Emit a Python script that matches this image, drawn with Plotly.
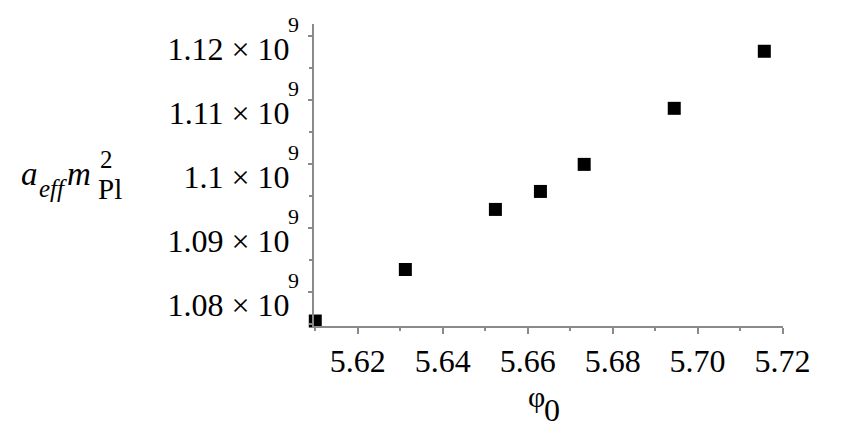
import plotly.graph_objects as go

# data
phi0 = [5.61, 5.6312, 5.6524, 5.663, 5.6733, 5.6945, 5.7157]
a_eff_mpl2 = [1.07546e9, 1.08351e9, 1.09290e9, 1.09571e9, 1.09994e9, 1.10870e9, 1.11762e9]

x_ticks = [5.62, 5.64, 5.66, 5.68, 5.70, 5.72]
x_ticklabels = ["5.62", "5.64", "5.66", "5.68", "5.70", "5.72"]
y_ticks = [1.08e9, 1.09e9, 1.10e9, 1.11e9, 1.12e9]
y_ticklabels = ["1.08 × 10", "1.09 × 10", "1.1 × 10", "1.11 × 10", "1.12 × 10"]
y_tick_exponent = "9"

FONT = "Liberation Serif"
PAGE = 8  # default body margin of the html page
W, H = 844 - PAGE, 436 - PAGE
L, R, T, B = 314 - PAGE, 61, 24 - PAGE, 110
AX = "#8a8a8a"

fig = go.Figure()
fig.add_trace(go.Scatter(
    x=phi0, y=a_eff_mpl2, mode="markers",
    marker=dict(symbol="square", size=13, color="black", line=dict(width=0)),
    cliponaxis=False, showlegend=False,
))

fig.update_xaxes(
    range=[5.6097, 5.7201], tickvals=x_ticks, ticktext=x_ticklabels,
    showline=True, linecolor=AX, linewidth=2, showgrid=False, zeroline=False,
    ticks="outside", ticklen=6, tickwidth=1.5, tickcolor=AX,
    minor=dict(dtick=0.01, tick0=5.61, ticks="outside", ticklen=3, tickcolor=AX, tickwidth=1.5, showgrid=False),
    tickfont=dict(family=FONT, size=32, color="black"),
)
fig.update_yaxes(
    range=[1.07468e9, 1.12188e9], tickvals=y_ticks, ticktext=y_ticklabels,
    showline=True, linecolor=AX, linewidth=2, showgrid=False, zeroline=False,
    ticks="outside", ticklen=4, tickwidth=1.5, tickcolor=AX,
    minor=dict(dtick=0.005e9, tick0=1.075e9, ticks="outside", ticklen=3, tickcolor=AX, tickwidth=1.5, showgrid=False),
    tickfont=dict(family=FONT, size=32, color="black"),
    ticklabelstandoff=12, ticklabelshift=13,
)


def place(text, left_px, baseline_px, size):
    # left_px / baseline_px are window pixels
    return dict(
        text=text, showarrow=False, xref="paper", yref="paper",
        x=0, xanchor="left", xshift=left_px - (L + PAGE),
        y=0, yanchor="middle", yshift=(H + PAGE - B) - (baseline_px - 0.34 * size),
        font=dict(family=FONT, size=size, color="black"), borderpad=0,
    )


annotations = [
    place("<i>a</i>", 20, 185, 33),
    place("<i>eff</i>", 38, 197, 25),
    place("<i>m</i>", 66, 185, 33),
    place("Pl", 97, 199, 29),
    place("2", 99, 168, 25),
    place("φ", 527, 407, 30),
    place("0", 543, 421, 32),
]
# exponent of each y tick label, attached to the tick value
for yv in y_ticks:
    annotations.append(dict(
        text=y_tick_exponent, showarrow=False, xref="paper", yref="y",
        x=0, xanchor="left", xshift=287 - (L + PAGE), y=yv, yanchor="bottom", yshift=-2,
        font=dict(family=FONT, size=22, color="black"), borderpad=0,
    ))

fig.update_layout(
    width=W, height=H, margin=dict(l=L, r=R, t=T, b=B, autoexpand=False),
    paper_bgcolor="white", plot_bgcolor="white",
    annotations=annotations,
)

fig.write_html("out.html")
